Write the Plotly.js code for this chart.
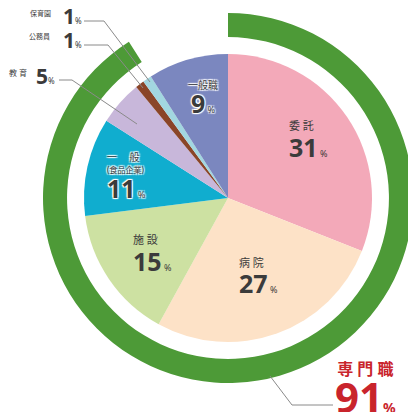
<!DOCTYPE html>
<html>
<head>
<meta charset="utf-8">
<script src="https://cdn.plot.ly/plotly-3.0.1.min.js"></script>
<style>
html,body{margin:0;padding:0;background:#fff;overflow:hidden;width:408px;height:412px;}
#chart{width:430px;height:412px;}
</style>
</head>
<body>
<div id="chart"></div>
<script>
// ---- data ----
const categories = ['委託', '病院', '施設', '一般', '教育', '公務員', '保育園', '一般職'];
const values = [31, 27, 15, 11, 5, 1, 1, 9];
const sliceColors = ['#F3A9B9', '#FDE2C7', '#CDE1A2', '#10ADCF', '#C8B7DA', '#8A4528', '#A2D7E0', '#7B87BF'];
const subLabel = '(食品企業)';
const ringLabels = ['専門職', 'その他'];
const ringValues = [91, 9];
const ringColors = ['#4D9A37', 'rgba(0,0,0,0)'];

// ---- layout helpers (pixel -> paper) ----
const W = 430, H = 412;
const px = x => x / W;
const py = y => 1 - y / H;
const cx = 228, cy = 198, rPie = 144, rRing = 185;

const pie = {
  type: 'pie', labels: categories, values: values, sort: false,
  direction: 'clockwise', rotation: 0,
  marker: {colors: sliceColors, line: {width: 0}},
  textinfo: 'none', hoverinfo: 'label+percent',
  domain: {x: [px(cx - rPie), px(cx + rPie)], y: [py(cy + rPie), py(cy - rPie)]}
};
const ring = {
  type: 'pie', labels: ringLabels, values: ringValues, sort: false,
  direction: 'clockwise', rotation: 0, hole: 0.87,
  marker: {colors: ringColors, line: {width: 0}},
  textinfo: 'none', hoverinfo: 'skip',
  domain: {x: [px(cx - rRing), px(cx + rRing)], y: [py(cy + rRing), py(cy - rRing)]}
};

const FAM = '"Noto Sans", "Noto Sans CJK JP", sans-serif';
const dark = '#3b3b3b';
const halo = '1px 1px 1px #ffffff, -1px -1px 1px #ffffff, 1px -1px 1px #ffffff, -1px 1px 1px #ffffff';

const ann = [];
function t(text, x, y, size, opts) {
  opts = opts || {};
  const f = {family: FAM, size: size, color: opts.color || dark};
  if (opts.shadow) f.shadow = halo;
  ann.push({
    text: text, x: px(x), y: py(y), xref: 'paper', yref: 'paper',
    xanchor: opts.xa || 'center', yanchor: opts.ya || 'middle', align: opts.align || 'center',
    showarrow: false, font: f
  });
}
const sp = (s, size, extra) => '<span style="font-size:' + size + 'px' + (extra ? ';' + extra : '') + '">' + s + '</span>';
const spaced = s => s.split('').join(' ');
const num = (v, size, psize) => sp(String(v), size, 'font-weight:bold') + sp(' %', psize);

// inside blocks: label line + number line (one annotation each)
t(sp(spaced(categories[0]), 11) + '<br>' + num(values[0], 25, 9), 287, 166, 21, {xa: 'left', ya: 'bottom', align: 'left'});
t(sp(spaced(categories[1]), 11) + '<br>' + num(values[1], 25, 9), 237, 302, 20, {xa: 'left', ya: 'bottom', align: 'left'});
t(sp(spaced(categories[2]), 11) + '<br>' + num(values[2], 25, 9), 131, 280, 21, {xa: 'left', ya: 'bottom', align: 'left'});
t(sp(categories[3].split('').join('　 '), 10) + '<br>' + sp(subLabel, 8) + '<br><br>' + num(values[3], 25, 9),
  105, 207, 9.5, {xa: 'left', ya: 'bottom', align: 'left', shadow: true});
t(sp(categories[7], 10) + '<br>' + num(values[7], 25, 9), 203, 122, 18.5, {ya: 'bottom', shadow: true});

// outside labels
t(categories[6], 40, 14, 7);
t(String(values[6]) + sp('%', 8, 'font-weight:normal'), 61, 16, 21, {xa: 'left'});
t(categories[5], 39, 37, 7);
t(String(values[5]) + sp('%', 8, 'font-weight:normal'), 61, 40, 21, {xa: 'left'});
t(spaced(categories[4]), 18, 72, 8);
t(String(values[4]) + sp('%', 8, 'font-weight:normal'), 34, 76, 21, {xa: 'left'});
ann.slice(-6).forEach((a, i) => { if (i % 2 === 1) a.font.weight = 'bold'; });

// ring label
const red = '#C9242C';
t(sp(spaced(ringLabels[0]), 16, 'font-weight:bold') + '<br>' + sp(String(ringValues[0]), 42, 'font-weight:bold') + sp('%', 14, 'font-weight:bold'),
  365, 427, 29, {color: red, ya: 'bottom'});

// leader lines
const lines = [
  [[84, 21], [104, 21], [150, 82]],
  [[84, 45], [108, 45], [143, 88]],
  [[59, 80], [72, 80], [137, 124]],
  [[270, 376], [292, 405], [333, 405]]
];
const shapes = [];
lines.forEach(pts => {
  for (let i = 0; i < pts.length - 1; i++) {
    shapes.push({type: 'line', xref: 'paper', yref: 'paper',
      x0: px(pts[i][0]), y0: py(pts[i][1]), x1: px(pts[i + 1][0]), y1: py(pts[i + 1][1]),
      line: {color: '#8a8a8a', width: 1}});
  }
});

Plotly.newPlot('chart', [ring, pie], {
  width: W, height: H, margin: {l: 0, r: 0, t: 0, b: 0},
  paper_bgcolor: '#ffffff', plot_bgcolor: '#ffffff', showlegend: false,
  annotations: ann, shapes: shapes
}, {displayModeBar: false, staticPlot: true});
</script>
</body>
</html>
